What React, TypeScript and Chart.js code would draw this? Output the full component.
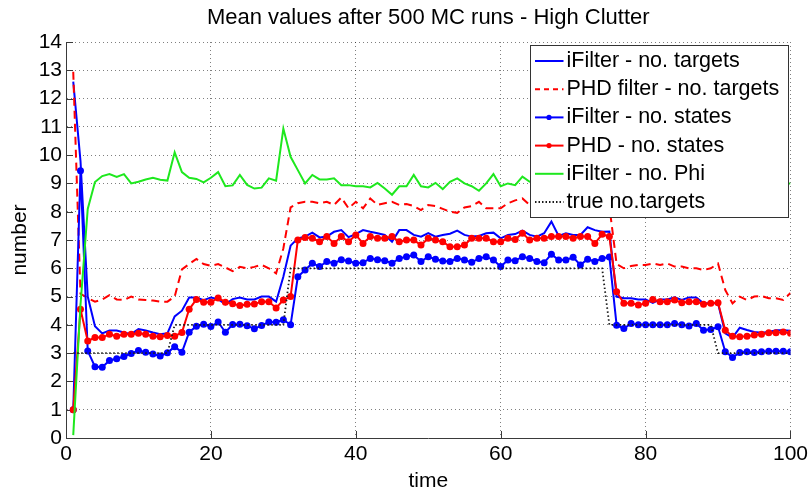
import React, { useEffect, useRef } from "react";
import { Chart, registerables } from "chart.js";

Chart.register(...registerables);

const TITLE = "Mean values after 500 MC runs - High Clutter";
const X_LABEL = "time";
const Y_LABEL = "number";

const TIME: number[] = Array.from({ length: 100 }, (_, i) => i + 1);

const IFILTER_TARGETS = [
  12.6, 9.8, 5.0, 3.95, 3.7, 3.8, 3.8, 3.73, 3.67, 3.85,
  3.8, 3.73, 3.67, 3.7, 4.3, 4.5, 4.97, 4.97, 4.87, 4.97,
  4.91, 4.73, 4.91, 4.97, 4.9, 4.9, 5.0, 5.0, 4.82, 5.7,
  6.8, 7.06, 7.12, 7.26, 7.09, 7.12, 7.29, 7.35, 7.1, 7.21,
  7.35, 7.29, 7.24, 7.18, 6.94, 7.35, 7.35, 7.18, 7.12, 7.24,
  7.12, 7.18, 7.22, 7.33, 7.18, 7.12, 7.14, 7.24, 7.26, 7.06,
  7.18, 7.21, 7.33, 7.18, 7.12, 7.24, 7.65, 7.14, 7.24, 7.18,
  7.18, 7.45, 7.35, 7.29, 7.3, 5.0, 4.94, 4.94, 4.9, 4.9,
  4.78, 4.9, 4.9, 4.97, 4.88, 4.97, 4.97, 4.76, 4.76, 4.76,
  3.7, 3.55, 3.9, 3.82, 3.75, 3.72, 3.75, 3.81, 3.81, 3.79,
];

const PHD_TARGETS = [
  12.95, 5.1, 4.95, 4.82, 4.9, 5.05, 4.9, 4.88, 5.0, 4.9,
  4.88, 4.86, 4.82, 4.82, 5.0, 5.96, 6.15, 6.33, 6.15, 6.09,
  6.15, 6.03, 5.9, 6.05, 6.0, 6.05, 6.12, 6.0, 5.82, 6.7,
  8.15, 8.3, 8.35, 8.35, 8.3, 8.35, 8.24, 8.5, 8.12, 8.35,
  8.12, 8.47, 8.24, 8.3, 8.35, 8.24, 8.27, 8.2, 8.06, 8.24,
  8.2, 8.1, 8.0, 7.96, 8.15, 8.2, 8.35, 8.12, 8.12, 8.12,
  8.3, 8.4, 8.47, 8.24, 8.3, 8.25, 8.35, 8.2, 8.3, 8.4,
  8.25, 8.3, 8.2, 8.3, 8.2, 6.15, 6.0, 6.08, 6.12, 6.12,
  6.17, 6.12, 6.17, 6.06, 6.06, 6.0, 6.0, 5.94, 6.0, 6.17,
  5.23, 4.76, 5.0, 4.88, 5.0, 5.02, 4.94, 4.94, 4.88, 5.13,
];

const IFILTER_STATES = [
  1.0, 9.45, 3.08, 2.52, 2.5, 2.74, 2.8, 2.88, 2.99, 3.09,
  3.03, 2.97, 2.9, 3.01, 3.23, 3.03, 3.74, 3.95, 4.02, 3.94,
  4.1, 3.74, 4.01, 4.02, 3.97, 3.86, 3.98, 4.1, 4.09, 4.18,
  4.0, 5.7, 5.94, 6.18, 6.06, 6.24, 6.18, 6.3, 6.26, 6.18,
  6.2, 6.35, 6.3, 6.27, 6.18, 6.35, 6.41, 6.47, 6.24, 6.41,
  6.32, 6.26, 6.24, 6.35, 6.29, 6.21, 6.35, 6.41, 6.29, 6.06,
  6.29, 6.27, 6.41, 6.35, 6.24, 6.2, 6.5, 6.29, 6.29, 6.39,
  6.12, 6.32, 6.24, 6.35, 6.4, 3.99, 3.87, 4.05, 4.0, 4.0,
  4.0, 4.0, 4.0, 4.05, 4.0, 3.96, 4.05, 3.81, 3.84, 3.93,
  3.05, 2.85, 3.02, 3.05, 3.02, 3.05, 3.07, 3.07, 3.07, 3.05,
];

const PHD_STATES = [
  1.0, 4.55, 3.43, 3.55, 3.55, 3.67, 3.6, 3.67, 3.67, 3.7,
  3.67, 3.6, 3.58, 3.62, 3.6, 3.73, 4.55, 4.9, 4.8, 4.8,
  4.95, 4.8, 4.75, 4.68, 4.73, 4.74, 4.82, 4.82, 4.6, 4.88,
  5.0, 7.0, 7.09, 7.06, 6.94, 7.12, 6.88, 7.12, 6.94, 7.18,
  6.88, 7.12, 7.06, 7.06, 7.12, 6.94, 7.0, 7.0, 6.82, 7.06,
  7.0, 6.94, 6.76, 6.76, 6.82, 7.06, 7.06, 7.06, 6.94, 6.94,
  7.06, 7.02, 7.24, 7.0, 7.06, 7.06, 7.12, 7.12, 7.12, 7.06,
  7.12, 7.12, 6.88, 7.2, 7.12, 5.17, 4.76, 4.76, 4.7, 4.76,
  4.9, 4.82, 4.82, 4.88, 4.78, 4.82, 4.82, 4.73, 4.76, 4.78,
  3.81, 3.6, 3.58, 3.6, 3.64, 3.67, 3.72, 3.72, 3.75, 3.7,
];

const IFILTER_PHI = [
  0.1, 4.7, 8.1, 9.05, 9.26, 9.33, 9.23, 9.33, 9.0, 9.06,
  9.14, 9.2, 9.13, 9.1, 10.1, 9.4, 9.2, 9.16, 9.04, 9.2,
  9.4, 8.9, 8.93, 9.3, 8.95, 8.82, 8.85, 9.18, 9.1, 10.94,
  9.94, 9.47, 9.0, 9.3, 9.14, 9.14, 9.18, 8.94, 8.94, 8.9,
  8.9, 8.86, 9.02, 8.82, 8.6, 8.9, 8.9, 9.3, 8.9, 8.86,
  9.02, 8.8, 9.06, 9.18, 9.0, 8.9, 8.74, 9.0, 9.33, 8.9,
  9.0, 8.94, 9.24, 9.06, 9.1, 8.95, 9.0, 9.15, 8.9, 9.05,
  9.2, 8.95, 9.0, 9.1, 8.9, 9.05, 9.0, 8.95, 9.1, 9.0,
  8.9, 9.05, 9.15, 8.95, 9.0, 9.1, 8.95, 9.0, 9.05, 8.9,
  9.1, 9.0, 8.95, 9.05, 9.0, 9.1, 8.95, 9.0, 9.0, 9.0,
];

const TRUE_TARGETS = [
  3, 3, 3, 3, 3, 3, 3, 3, 3, 3,
  3, 3, 3, 3, 4, 4, 4, 4, 4, 4,
  4, 4, 4, 4, 4, 4, 4, 4, 4, 4,
  6, 6, 6, 6, 6, 6, 6, 6, 6, 6,
  6, 6, 6, 6, 6, 6, 6, 6, 6, 6,
  6, 6, 6, 6, 6, 6, 6, 6, 6, 6,
  6, 6, 6, 6, 6, 6, 6, 6, 6, 6,
  6, 6, 6, 6, 4, 4, 4, 4, 4, 4,
  4, 4, 4, 4, 4, 4, 4, 4, 4, 3,
  3, 3, 3, 3, 3, 3, 3, 3, 3, 3,
];

const SERIES_LABELS = [
  "iFilter - no. targets",
  "PHD filter - no. targets",
  "iFilter - no. states",
  "PHD - no. states",
  "iFilter - no. Phi",
  "true no.targets",
];

const X_TICK_VALUES = [0, 20, 40, 60, 80, 100];
const Y_TICK_VALUES = [0, 1, 2, 3, 4, 5, 6, 7, 8, 9, 10, 11, 12, 13, 14];

const FONT = '"Liberation Sans", Arial, Helvetica, sans-serif';
const AXIS_COLOR = "#3a3a3a";
const GRID_COLOR = "rgba(0,0,0,0.5)";
const BLUE = "#0000ff";
const RED = "#ff0000";
const GREEN = "#1ee81e";
const BLACK = "#1a1a1a";

const toPoints = (ys: number[]) => ys.map((y, i) => ({ x: TIME[i], y }));

const decorPlugin = {
  id: "decor",
  beforeDatasetsDraw(chart: any) {
    const { ctx, chartArea, scales } = chart;
    const xs = scales.x;
    const ys = scales.y;
    ctx.save();
    ctx.strokeStyle = AXIS_COLOR;
    ctx.lineWidth = 1;
    ctx.setLineDash([]);
    ctx.beginPath();
    for (const v of Y_TICK_VALUES) {
      const py = Math.round(ys.getPixelForValue(v)) + 0.5;
      ctx.moveTo(chartArea.left, py);
      ctx.lineTo(chartArea.left + 7, py);
    }
    for (const v of X_TICK_VALUES) {
      const px = Math.round(xs.getPixelForValue(v)) + 0.5;
      ctx.moveTo(px, chartArea.bottom);
      ctx.lineTo(px, chartArea.bottom - 7);
    }
    ctx.stroke();
    ctx.restore();
  },
  afterDraw(chart: any) {
    const { ctx, chartArea } = chart;
    ctx.save();
    // title
    ctx.fillStyle = "#000";
    ctx.font = `22px ${FONT}`;
    ctx.textAlign = "center";
    ctx.textBaseline = "alphabetic";
    ctx.fillText(TITLE, (chartArea.left + chartArea.right) / 2, 23.5);

    // legend box inside the plot, top right
    const lw = 258;
    const lh = 172;
    const lx = Math.round(chartArea.right - 2 - lw) + 0.5;
    const ly = Math.round(chartArea.top + 3) + 0.5;
    ctx.fillStyle = "#ffffff";
    ctx.fillRect(lx, ly, lw, lh);
    ctx.strokeStyle = "#333";
    ctx.lineWidth = 1;
    ctx.strokeRect(lx, ly, lw, lh);

    const datasets = chart.data.datasets;
    datasets.forEach((ds: any, i: number) => {
      const y = ly + 15.5 + i * 28.2;
      ctx.save();
      ctx.strokeStyle = ds.borderColor;
      ctx.lineWidth = ds.borderWidth;
      ctx.setLineDash(ds.legendDash || []);
      ctx.beginPath();
      ctx.moveTo(lx + 4.5, y);
      ctx.lineTo(lx + 33, y);
      ctx.stroke();
      ctx.restore();
      if (ds.pointRadius > 0) {
        ctx.fillStyle = ds.borderColor;
        ctx.beginPath();
        ctx.arc(lx + 18.5, y, 2.6, 0, Math.PI * 2);
        ctx.fill();
      }
      ctx.fillStyle = "#000";
      ctx.font = `21.5px ${FONT}`;
      ctx.textAlign = "left";
      ctx.textBaseline = "middle";
      ctx.fillText(ds.label, lx + 36, y);
    });
    ctx.restore();
  },
};

export default function App() {
  const ref = useRef<HTMLCanvasElement>(null);

  useEffect(() => {
    if (!ref.current) return;
    const chart = new Chart(ref.current, {
      type: "line",
      data: {
        datasets: [
          {
            label: SERIES_LABELS[0],
            data: toPoints(IFILTER_TARGETS),
            borderColor: BLUE,
            backgroundColor: BLUE,
            borderWidth: 2,
            pointRadius: 0,
            order: 5,
          },
          {
            label: SERIES_LABELS[1],
            data: toPoints(PHD_TARGETS),
            borderColor: RED,
            backgroundColor: RED,
            borderWidth: 2,
            borderDash: [8, 5],
            legendDash: [5, 4],
            pointRadius: 0,
            order: 4,
          },
          {
            label: SERIES_LABELS[2],
            data: toPoints(IFILTER_STATES),
            borderColor: BLUE,
            backgroundColor: BLUE,
            borderWidth: 2,
            pointRadius: 3.5,
            pointBorderWidth: 0,
            pointBackgroundColor: BLUE,
            order: 3,
          },
          {
            label: SERIES_LABELS[3],
            data: toPoints(PHD_STATES),
            borderColor: RED,
            backgroundColor: RED,
            borderWidth: 2,
            pointRadius: 3.5,
            pointBorderWidth: 0,
            pointBackgroundColor: RED,
            order: 2,
          },
          {
            label: SERIES_LABELS[4],
            data: toPoints(IFILTER_PHI),
            borderColor: GREEN,
            backgroundColor: GREEN,
            borderWidth: 2,
            pointRadius: 0,
            order: 1,
          },
          {
            label: SERIES_LABELS[5],
            data: toPoints(TRUE_TARGETS),
            borderColor: BLACK,
            backgroundColor: BLACK,
            borderWidth: 1.8,
            borderDash: [1.5, 2.5],
            legendDash: [1.5, 2],
            pointRadius: 0,
            order: 0,
          },
        ] as any,
      },
      options: {
        responsive: false,
        maintainAspectRatio: false,
        animation: false,
        devicePixelRatio: 1,
        layout: { padding: { top: 42, right: 21, bottom: 0, left: 0 } },
        elements: { line: { tension: 0 } },
        plugins: {
          legend: { display: false },
          tooltip: { enabled: false },
          title: { display: false },
        },
        scales: {
          x: {
            type: "linear",
            min: 0,
            max: 100,
            afterFit: (s: any) => {
              s.height = 59;
            },
            afterBuildTicks: (s: any) => {
              s.ticks = X_TICK_VALUES.map((v) => ({ value: v }));
            },
            ticks: {
              color: "#000",
              padding: 4,
              maxRotation: 0,
              autoSkip: false,
              font: { family: FONT, size: 21 },
            },
            grid: { color: GRID_COLOR, lineWidth: 1, drawTicks: false },
            border: { display: true, color: AXIS_COLOR, width: 1, dash: [1, 3] },
            title: {
              display: true,
              text: X_LABEL,
              color: "#000",
              font: { family: FONT, size: 21 },
              padding: { top: 0, bottom: 3 },
            },
          },
          y: {
            type: "linear",
            min: 0,
            max: 14,
            afterFit: (s: any) => {
              s.width = 66;
            },
            afterBuildTicks: (s: any) => {
              s.ticks = Y_TICK_VALUES.map((v) => ({ value: v }));
            },
            ticks: {
              color: "#000",
              padding: 4,
              autoSkip: false,
              font: { family: FONT, size: 21 },
            },
            grid: { color: GRID_COLOR, lineWidth: 1, drawTicks: false },
            border: { display: true, color: AXIS_COLOR, width: 1, dash: [1, 3] },
            title: {
              display: true,
              text: Y_LABEL,
              color: "#000",
              font: { family: FONT, size: 21 },
              padding: { top: 8, bottom: 0 },
            },
          },
        },
      },
      plugins: [decorPlugin],
    } as any);
    return () => chart.destroy();
  }, []);

  return (
    <div
      style={{
        position: "absolute",
        left: 0,
        top: 0,
        width: 812,
        height: 497,
        background: "#ffffff",
      }}
    >
      <canvas
        ref={ref}
        width={812}
        height={497}
        style={{ display: "block", width: 812, height: 497 }}
      />
    </div>
  );
}
